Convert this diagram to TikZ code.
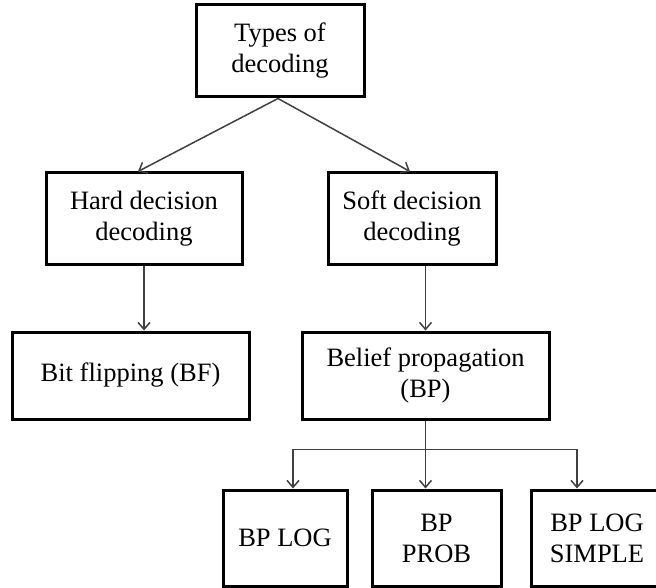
\documentclass[tikz,border=0pt]{standalone}
\usepackage{fontspec}
\setmainfont{Liberation Serif}
\usetikzlibrary{arrows.meta,calc}
\begin{document}
\begin{tikzpicture}[x=1pt,y=-1pt,
 box/.style={draw=black,line width=3pt,rectangle,inner sep=0pt,align=center,font=\fontsize{26.5}{31}\selectfont},
 conn/.style={draw=black!75,line width=1.5pt,-{Straight Barb[length=7pt,width=12pt]}},
 plain/.style={draw=black!75,line width=1.5pt}]
\clip (0,0) rectangle (656,588);
\node[box,minimum width=168pt,minimum height=92pt] (types) at (280,51) {Types of\\decoding};
\node[box,minimum width=196pt,minimum height=91pt] (hard) at (144,218.5) {Hard decision\\decoding};
\node[box,minimum width=168pt,minimum height=91pt] (soft) at (412,218.5) {Soft decision\\decoding};
\node[box,minimum width=237pt,minimum height=87pt] (bf) at (130.5,375.5) {Bit flipping (BF)};
\node[box,minimum width=247pt,minimum height=87pt] (bp) at (425.5,375.5) {Belief propagation\\(BP)};
\node[box,minimum width=124pt,minimum height=96pt] (bplog) at (285,538) {BP LOG};
\node[box,minimum width=129pt,minimum height=96pt] (bpprob) at (436.5,538) {BP\\PROB};
\node[box,minimum width=132pt,minimum height=96pt] (simple) at (597,538) {BP LOG\\SIMPLE};
\draw[conn] ([xshift=-2pt]types.south) -- ([xshift=-6pt]hard.north);
\draw[conn] ([xshift=-2pt]types.south) -- ([xshift=-2pt]soft.north);
\draw[conn] (hard.south) -- (hard.south |- bf.north);
\draw[conn] (bp.north |- soft.south) -- (bp.north);
\coordinate (j) at ($(bp.south)+(0,29)$);
\draw[conn] (bp.south) -- (bp.south |- bpprob.north);
\draw[conn] (j) -| ([xshift=8pt]bplog.north);
\draw[conn] (j) -| ([xshift=-20pt]simple.north);
\end{tikzpicture}
\end{document}
